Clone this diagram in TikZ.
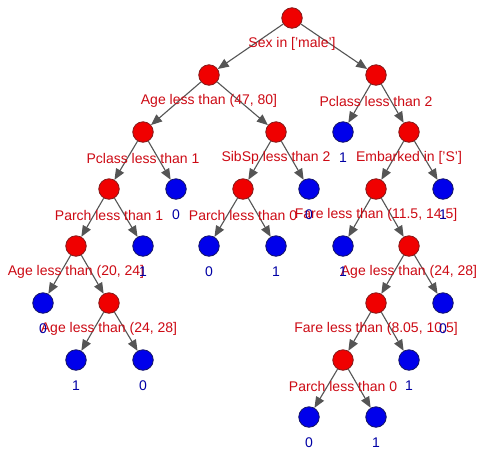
\documentclass[tikz,border=0pt]{standalone}
\usepackage{fontspec}
\setmainfont{Liberation Sans}
\usetikzlibrary{arrows.meta}
\definecolor{splitRed}{RGB}{240,0,0}
\definecolor{splitRim}{RGB}{130,25,25}
\definecolor{leafBlue}{RGB}{0,0,235}
\definecolor{leafRim}{RGB}{20,20,100}
\definecolor{condText}{RGB}{205,10,20}
\definecolor{valText}{RGB}{0,0,165}
\definecolor{edgeGray}{RGB}{85,85,85}

\begin{document}
\begin{tikzpicture}[x=1pt,y=-1pt,font=\fontsize{14}{16.8}\selectfont,
 split/.style={circle,draw=splitRim,fill=splitRed,line width=.8pt,minimum size=20.5pt,inner sep=0pt},
 leaf/.style={split,draw=leafRim,fill=leafBlue},
 cond/.style={text=condText,inner sep=0pt},
 val/.style={text=valText,inner sep=0pt},
 arr/.style={-{Triangle[length=11pt,width=9pt]},line width=1.1pt,edgeGray}]
\path[use as bounding box,fill=white] (0,0) rectangle (495,459);
% splits
\node[split] (sex) at (292,18) {};
\node[split] (age) at (209,75) {};
\node[split] (pclA) at (143,132) {};
\node[split] (parchA) at (109,189) {};
\node[split] (ageA) at (76,246) {};
\node[split] (ageB) at (109,303) {};
\node[split] (sib) at (276,132) {};
\node[split] (parchB) at (243,189) {};
\node[split] (pclB) at (376,75) {};
\node[split] (emb) at (409,132) {};
\node[split] (fareA) at (376,189) {};
\node[split] (ageC) at (409,246) {};
\node[split] (fareB) at (376,303) {};
\node[split] (parchC) at (343,360) {};
% leaves
\node[leaf] (lf1) at (43,303) {};
\node[leaf] (lf2) at (76,360) {};
\node[leaf] (lf3) at (143,360) {};
\node[leaf] (lf4) at (143,246) {};
\node[leaf] (lf5) at (176,189) {};
\node[leaf] (lf6) at (209,246) {};
\node[leaf] (lf7) at (276,246) {};
\node[leaf] (lf8) at (309,189) {};
\node[leaf] (lf9) at (343,132) {};
\node[leaf] (lf10) at (343,246) {};
\node[leaf] (lf11) at (309,417) {};
\node[leaf] (lf12) at (376,417) {};
\node[leaf] (lf13) at (409,360) {};
\node[leaf] (lf14) at (443,303) {};
\node[leaf] (lf15) at (443,189) {};
% edges
\draw[arr] (sex) -- (age);
\draw[arr] (sex) -- (pclB);
\draw[arr] (age) -- (pclA);
\draw[arr] (age) -- (sib);
\draw[arr] (pclA) -- (parchA);
\draw[arr] (pclA) -- (lf5);
\draw[arr] (parchA) -- (ageA);
\draw[arr] (parchA) -- (lf4);
\draw[arr] (ageA) -- (lf1);
\draw[arr] (ageA) -- (ageB);
\draw[arr] (ageB) -- (lf2);
\draw[arr] (ageB) -- (lf3);
\draw[arr] (sib) -- (parchB);
\draw[arr] (sib) -- (lf8);
\draw[arr] (parchB) -- (lf6);
\draw[arr] (parchB) -- (lf7);
\draw[arr] (pclB) -- (lf9);
\draw[arr] (pclB) -- (emb);
\draw[arr] (emb) -- (fareA);
\draw[arr] (emb) -- (lf15);
\draw[arr] (fareA) -- (lf10);
\draw[arr] (fareA) -- (ageC);
\draw[arr] (ageC) -- (fareB);
\draw[arr] (ageC) -- (lf14);
\draw[arr] (fareB) -- (parchC);
\draw[arr] (fareB) -- (lf13);
\draw[arr] (parchC) -- (lf11);
\draw[arr] (parchC) -- (lf12);
% split conditions
\node[cond] (sexT) at (292,44) {Sex in ['male']};
\node[cond] (ageT) at (209,101) {Age less than (47, 80]};
\node[cond] (pclAT) at (143,158) {Pclass less than 1};
\node[cond] (parchAT) at (109,215) {Parch less than 1};
\node[cond] (ageAT) at (76,272) {Age less than (20, 24]};
\node[cond] (ageBT) at (109,329) {Age less than (24, 28]};
\node[cond] (sibT) at (276,158) {SibSp less than 2};
\node[cond] (parchBT) at (243,215) {Parch less than 0};
\node[cond] (pclBT) at (376,101) {Pclass less than 2};
\node[cond] (embT) at (409,158) {Embarked in ['S']};
\node[cond] (fareAT) at (376,215) {Fare less than (11.5, 14.5]};
\node[cond] (ageCT) at (409,272) {Age less than (24, 28]};
\node[cond] (fareBT) at (376,329) {Fare less than (8.05, 10.5]};
\node[cond] (parchCT) at (343,386) {Parch less than 0};
% leaf values
\node[val] (lf1T) at (43,329) {0};
\node[val] (lf2T) at (76,386) {1};
\node[val] (lf3T) at (143,386) {0};
\node[val] (lf4T) at (143,272) {1};
\node[val] (lf5T) at (176,215) {0};
\node[val] (lf6T) at (209,272) {0};
\node[val] (lf7T) at (276,272) {1};
\node[val] (lf8T) at (309,215) {0};
\node[val] (lf9T) at (343,158) {1};
\node[val] (lf10T) at (343,272) {1};
\node[val] (lf11T) at (309,443) {0};
\node[val] (lf12T) at (376,443) {1};
\node[val] (lf13T) at (409,386) {1};
\node[val] (lf14T) at (443,329) {0};
\node[val] (lf15T) at (443,215) {1};
\end{tikzpicture}
\end{document}
